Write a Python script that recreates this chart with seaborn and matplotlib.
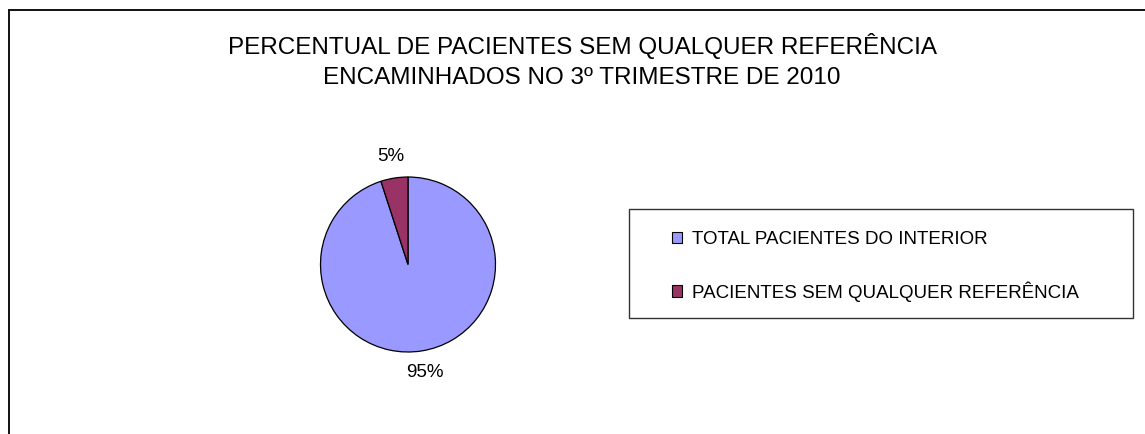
import matplotlib
matplotlib.use("Agg")
import matplotlib.pyplot as plt
from matplotlib.patches import Rectangle, Patch
import seaborn as sns

# data
categories = ["TOTAL PACIENTES DO INTERIOR", "PACIENTES SEM QUALQUER REFERÊNCIA"]
percentuais = [95, 5]
cores = ["#9999FF", "#993366"]
titulo = "PERCENTUAL DE PACIENTES SEM QUALQUER REFERÊNCIA\nENCAMINHADOS NO 3º TRIMESTRE DE 2010"

sns.set_theme(style="white")
plt.rcParams['font.family'] = ['Liberation Sans', 'DejaVu Sans']

W, H = 1145, 434
fig = plt.figure(figsize=(W / 100, H / 100), dpi=100)
fig.patch.set_facecolor("white")

def fx(px):
    return px / W

def fy(py):
    return 1 - py / H

# outer chart frame (runs off right and bottom edges)
fig.patches.append(Rectangle((fx(9), -0.05), 1.2, fy(10) + 0.05, transform=fig.transFigure,
                             fill=False, edgecolor="#111111", linewidth=1.4))

# title
fig.text(fx(582), fy(61), titulo, ha="center", va="center", fontsize=17.5,
         linespacing=1.42, color="black")

# pie
cx, cy, r = 408, 264.5, 87.5
ax = fig.add_axes([fx(cx - r), fy(cy + r), (2 * r) / W, (2 * r) / H])
wedges, texts, autotexts = ax.pie(percentuais, colors=cores, startangle=90, counterclock=False,
                                  autopct="%1.0f%%", pctdistance=1.25,
                                  wedgeprops=dict(edgecolor="black", linewidth=0.9),
                                  textprops=dict(fontsize=13.5, color="black"))
ax.set_xlim(-1, 1)
ax.set_ylim(-1, 1)
ax.set_aspect("equal")
ax.axis("off")

# legend box
fig.patches.append(Rectangle((fx(629), fy(318)), (1133 - 629) / W, (318 - 209) / H,
                             transform=fig.transFigure, fill=False,
                             edgecolor="#333333", linewidth=1.0))
handles = [Patch(facecolor=c, edgecolor="black", linewidth=0.8) for c in cores]
leg = fig.legend(handles, categories, loc="center left", bbox_to_anchor=(fx(672), fy(266.5)),
                 frameon=False, fontsize=13.5, borderpad=0, borderaxespad=0,
                 handlelength=0.55, handleheight=0.55, handletextpad=0.5, labelspacing=1.74)
for t in leg.get_texts():
    t.set_color("black")

fig.savefig("out.png", dpi=100, facecolor="white")
